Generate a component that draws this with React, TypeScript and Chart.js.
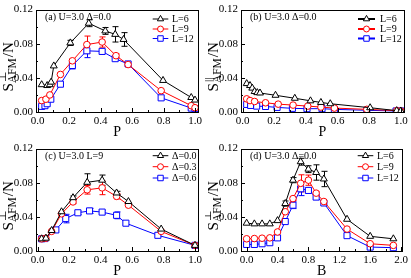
import React, { useEffect, useRef } from "react";
import { Chart, registerables } from "chart.js";
Chart.register(...registerables);

const FONT = "'Liberation Serif', 'Times New Roman', serif";

// ---- tick labels ----
const P_TICKS = [0, 0.2, 0.4, 0.6, 0.8, 1.0];
const B_TICKS = [0, 0.4, 0.8, 1.2, 1.6, 2.0];
const Y_TICKS = [0, 0.04, 0.08, 0.12];

// ---- panel (a): S_perp vs P, U=3.0, Delta=0.0 ----
const A_X6 = [0.026, 0.061, 0.078, 0.086, 0.103, 0.208, 0.325, 0.43, 0.493, 0.546, 0.797, 0.976, 1.0];
const A_Y6 = [0.032, 0.031, 0.032, 0.035, 0.054, 0.081, 0.104, 0.095, 0.091, 0.085, 0.037, 0.017, 0.014];
const A_E6 = [0, 0, 0, 0, 0, 0.003, 0.004, 0.004, 0.009, 0.008, 0, 0, 0];
const A_X9 = [0.026, 0.053, 0.078, 0.145, 0.221, 0.313, 0.41, 0.498, 0.575, 0.785, 0.976, 1.0];
const A_Y9 = [0.0134, 0.015, 0.02, 0.044, 0.06, 0.079, 0.082, 0.066, 0.0556, 0.025, 0.0074, 0.005];
const A_E9 = [0, 0, 0, 0, 0.002, 0.01, 0.006, 0.002, 0, 0, 0, 0];
const A_X12 = [0.026, 0.047, 0.061, 0.084, 0.145, 0.221, 0.313, 0.41, 0.493, 0.575, 0.785, 0.976, 1.0];
const A_Y12 = [0.0066, 0.0074, 0.0097, 0.015, 0.0326, 0.0545, 0.0717, 0.071, 0.0625, 0.0563, 0.0166, 0.0046, 0.004];
const A_E12 = [0, 0, 0, 0, 0, 0.004, 0.008, 0.002, 0, 0, 0, 0, 0];

// ---- panel (b): S_parallel vs P ----
const B_X6 = [0.026, 0.047, 0.061, 0.076, 0.093, 0.11, 0.208, 0.33, 0.429, 0.495, 0.554, 0.806, 0.974, 1.0];
const B_Y6 = [0.0333, 0.031, 0.028, 0.024, 0.0227, 0.0223, 0.0196, 0.0161, 0.0131, 0.0112, 0.0097, 0.005, 0.0016, 0.0012];
const B_X9 = [0.026, 0.047, 0.076, 0.145, 0.225, 0.319, 0.412, 0.495, 0.58, 0.785, 0.974, 1.0];
const B_Y9 = [0.0154, 0.0134, 0.0123, 0.0108, 0.0092, 0.0081, 0.0069, 0.0058, 0.0046, 0.0031, 0.0016, 0.0012];
const B_X12 = [0.026, 0.051, 0.089, 0.145, 0.218, 0.315, 0.407, 0.502, 0.58, 0.785, 0.97, 1.0];
const B_Y12 = [0.0089, 0.0077, 0.0069, 0.0065, 0.0054, 0.0043, 0.0039, 0.0039, 0.0031, 0.002, 0.0012, 0.0012];

// ---- panel (c): S_perp vs P, U=3.0, L=9, various Delta ----
const C_X0 = [0.026, 0.053, 0.089, 0.152, 0.225, 0.315, 0.41, 0.502, 0.577, 0.785, 1.0];
const C_Y0 = [0.0143, 0.015, 0.024, 0.046, 0.0625, 0.0805, 0.083, 0.068, 0.058, 0.0257, 0.0066];
const C_E0 = [0, 0, 0, 0, 0.002, 0.01, 0.006, 0.002, 0, 0, 0];
const C_X3 = [0.026, 0.053, 0.089, 0.152, 0.225, 0.315, 0.41, 0.502, 0.577, 0.785, 1.0];
const C_Y3 = [0.0143, 0.015, 0.023, 0.0436, 0.0575, 0.0717, 0.074, 0.064, 0.0537, 0.023, 0.0066];
const C_E3 = [0, 0, 0, 0, 0.002, 0.005, 0.008, 0.003, 0, 0, 0];
const C_X6 = [0.026, 0.047, 0.116, 0.179, 0.256, 0.33, 0.41, 0.502, 0.561, 0.764, 1.0];
const C_Y6 = [0.0143, 0.0146, 0.0247, 0.038, 0.0448, 0.047, 0.0456, 0.0418, 0.0326, 0.0184, 0.0066];
const C_E6 = [0, 0, 0, 0.005, 0.002, 0.003, 0.002, 0.004, 0, 0, 0];

// ---- panel (d): S_perp vs B ----
const D_B = [0, 0.1, 0.2, 0.3, 0.4, 0.5, 0.6, 0.7, 0.8, 0.9, 1.0, 1.3, 1.6, 1.9];
const D_Y6 = [0.0326, 0.0318, 0.0318, 0.0318, 0.0356, 0.0556, 0.083, 0.1046, 0.0959, 0.092, 0.0844, 0.0372, 0.0172, 0.0143];
const D_E6 = [0, 0, 0, 0, 0, 0.003, 0.003, 0.004, 0.004, 0.009, 0.009, 0, 0, 0];
const D_Y9 = [0.0143, 0.0146, 0.015, 0.0154, 0.0223, 0.046, 0.0614, 0.0793, 0.083, 0.0678, 0.058, 0.0257, 0.0085, 0.0066];
const D_E9 = [0, 0, 0, 0, 0, 0, 0.002, 0.01, 0.006, 0.002, 0, 0, 0, 0];
const D_Y12 = [0.0077, 0.0077, 0.0085, 0.0097, 0.0154, 0.0345, 0.0537, 0.0729, 0.071, 0.0632, 0.0563, 0.018, 0.0046, 0.0039];
const D_E12 = [0, 0, 0, 0, 0, 0, 0.004, 0.008, 0.003, 0, 0, 0, 0, 0];

const L_LABELS = ["L=6", "L=9", "L=12"];
const D_LABELS = ["Δ=0.0", "Δ=0.3", "Δ=0.6"];
const NOTES = ["(a) U=3.0 Δ=0.0", "(b) U=3.0 Δ=0.0", "(c) U=3.0 L=9", "(d) U=3.0 Δ=0.0"];

type Shape = "triangle" | "circle" | "rect";
const COLORS = ["#000000", "#ff0000", "#0000ff"];
const SHAPES: Shape[] = ["triangle", "circle", "rect"];
const RADII = [4, 3.3, 4.3];

type SeriesDef = { x: number[]; y: number[]; e: number[] | null; label: string };
type PanelDef = {
  left: number; top: number; width: number; height: number;
  xMin: number; xMax: number; xTicks: number[]; xMinor: number; xTitle: string;
  ySup: string; note: string; legendY: number[]; legendX: number[]; legendLW: number;
  series: SeriesDef[];
};

const PANELS: PanelDef[] = [
  {
    left: 0, top: 0, width: 205, height: 139, xMin: -0.01, xMax: 1.02, xTicks: P_TICKS, xMinor: 0.1, xTitle: "P",
    ySup: "⊥", note: NOTES[0], legendY: [19, 29, 38.5], legendX: [152.7, 168.3, 172], legendLW: 1,
    series: [
      { x: A_X6, y: A_Y6, e: A_E6, label: L_LABELS[0] },
      { x: A_X9, y: A_Y9, e: A_E9, label: L_LABELS[1] },
      { x: A_X12, y: A_Y12, e: A_E12, label: L_LABELS[2] },
    ],
  },
  {
    left: 205, top: 0, width: 206, height: 139, xMin: -0.01, xMax: 1.02, xTicks: P_TICKS, xMinor: 0.1, xTitle: "P",
    ySup: "||", note: NOTES[1], legendY: [19, 29, 38.5], legendX: [153, 170, 175], legendLW: 2,
    series: [
      { x: B_X6, y: B_Y6, e: null, label: L_LABELS[0] },
      { x: B_X9, y: B_Y9, e: null, label: L_LABELS[1] },
      { x: B_X12, y: B_Y12, e: null, label: L_LABELS[2] },
    ],
  },
  {
    left: 0, top: 139, width: 205, height: 139, xMin: -0.01, xMax: 1.02, xTicks: P_TICKS, xMinor: 0.1, xTitle: "P",
    ySup: "⊥", note: NOTES[2], legendY: [16.7, 27.7, 39], legendX: [152.7, 168.3, 172], legendLW: 1,
    series: [
      { x: C_X0, y: C_Y0, e: C_E0, label: D_LABELS[0] },
      { x: C_X3, y: C_Y3, e: C_E3, label: D_LABELS[1] },
      { x: C_X6, y: C_Y6, e: C_E6, label: D_LABELS[2] },
    ],
  },
  {
    left: 205, top: 139, width: 206, height: 139, xMin: -0.073, xMax: 2.015, xTicks: B_TICKS, xMinor: 0.2, xTitle: "B",
    ySup: "⊥", note: NOTES[3], legendY: [16.7, 27.7, 39], legendX: [152.7, 168.3, 172], legendLW: 1,
    series: [
      { x: D_B, y: D_Y6, e: D_E6, label: L_LABELS[0] },
      { x: D_B, y: D_Y9, e: D_E9, label: L_LABELS[1] },
      { x: D_B, y: D_Y12, e: D_E12, label: L_LABELS[2] },
    ],
  },
];

function drawShape(ctx: CanvasRenderingContext2D, shape: Shape, x: number, y: number, r: number) {
  ctx.beginPath();
  if (shape === "circle") {
    ctx.arc(x, y, r, 0, Math.PI * 2);
  } else if (shape === "triangle") {
    const s = Math.sin(Math.PI * 2 / 3) * r;
    ctx.moveTo(x, y - r);
    ctx.lineTo(x + s, y + r / 2);
    ctx.lineTo(x - s, y + r / 2);
    ctx.closePath();
  } else {
    const h = r * Math.SQRT1_2;
    ctx.rect(x - h, y - h, 2 * h, 2 * h);
  }
  ctx.fillStyle = "#fff";
  ctx.fill();
  ctx.stroke();
}

function makeConfig(def: PanelDef): any {
  const deco = {
    id: "deco",
    beforeDatasetsDraw(chart: any) {
      const ctx: CanvasRenderingContext2D = chart.ctx;
      const xs = chart.scales.x, ys = chart.scales.y;
      ctx.save();
      ctx.lineWidth = 1;
      def.series.forEach((s, i) => {
        if (!s.e) return;
        ctx.strokeStyle = COLORS[i];
        s.e.forEach((e, j) => {
          if (!e) return;
          const px = Math.round(xs.getPixelForValue(s.x[j])) + 0.5;
          const y1 = ys.getPixelForValue(s.y[j] + e);
          const y2 = ys.getPixelForValue(s.y[j] - e);
          ctx.beginPath();
          ctx.moveTo(px, y1); ctx.lineTo(px, y2);
          ctx.moveTo(px - 3, y1); ctx.lineTo(px + 3, y1);
          ctx.moveTo(px - 3, y2); ctx.lineTo(px + 3, y2);
          ctx.stroke();
        });
      });
      ctx.restore();
    },
    afterDraw(chart: any) {
      const ctx: CanvasRenderingContext2D = chart.ctx;
      const ca = chart.chartArea;
      const xs = chart.scales.x, ys = chart.scales.y;
      ctx.save();
      ctx.strokeStyle = "#000";
      ctx.lineWidth = 1;
      // frame
      ctx.strokeRect(Math.round(ca.left) + 0.5, Math.round(ca.top) + 0.5, Math.round(ca.right - ca.left), Math.round(ca.bottom - ca.top));
      // inward ticks
      ctx.beginPath();
      const x0 = def.xTicks[0], x1 = def.xTicks[def.xTicks.length - 1];
      const nx = Math.round((x1 - x0) / def.xMinor);
      for (let k = 0; k <= nx; k++) {
        const v = x0 + k * def.xMinor;
        const px = Math.round(xs.getPixelForValue(v)) + 0.5;
        const len = k % 2 === 0 ? 4 : 2;
        ctx.moveTo(px, ca.bottom); ctx.lineTo(px, ca.bottom - len);
      }
      for (let k = 0; k <= 6; k++) {
        const v = k * 0.02;
        const py = Math.round(ys.getPixelForValue(v)) + 0.5;
        const len = k % 2 === 0 ? 4 : 2;
        ctx.moveTo(ca.left, py); ctx.lineTo(ca.left + len, py);
      }
      ctx.stroke();
      // note
      ctx.fillStyle = "#000";
      ctx.font = `10px ${FONT}`;
      ctx.textBaseline = "middle";
      ctx.textAlign = "left";
      ctx.fillText(def.note, ca.left + 9, ca.top + 7.7);
      // legend
      def.series.forEach((s, i) => {
        const y = def.legendY[i];
        ctx.strokeStyle = COLORS[i];
        ctx.lineWidth = def.legendLW;
        ctx.beginPath();
        ctx.moveTo(def.legendX[0], y); ctx.lineTo(def.legendX[1], y);
        ctx.stroke();
        ctx.lineWidth = 1;
        drawShape(ctx, SHAPES[i], (def.legendX[0] + def.legendX[1]) / 2, y, RADII[i] * 0.9);
        ctx.fillStyle = "#000";
        ctx.fillText(s.label, def.legendX[2], y + 0.5);
      });
      // y title: S^{sup}_{AFM}/N rotated
      ctx.translate(12.5, (ca.top + ca.bottom) / 2 + 6);
      ctx.rotate(-Math.PI / 2);
      const big = `15px ${FONT}`, small = `11.5px ${FONT}`;
      ctx.textBaseline = "alphabetic";
      ctx.font = big;
      const wS = ctx.measureText("S").width;
      const wN = ctx.measureText("/N").width;
      ctx.font = small;
      const wSub = ctx.measureText("AFM").width;
      const wSup = ctx.measureText(def.ySup).width;
      const wMid = Math.max(wSub, wSup) + 1;
      const total = wS + wMid + wN;
      let cx = -total / 2;
      ctx.fillStyle = "#000";
      ctx.font = big;
      ctx.fillText("S", cx, 0);
      cx += wS;
      ctx.font = small;
      ctx.fillText(def.ySup, cx + 1, -7);
      ctx.fillText("AFM", cx, 3);
      cx += wMid;
      ctx.font = big;
      ctx.fillText("/N", cx, 0);
      ctx.restore();
    },
  };

  const datasets = def.series.map((s, i) => ({
    label: s.label,
    data: s.x.map((x, j) => ({ x, y: s.y[j] })),
    borderColor: COLORS[i],
    backgroundColor: "#ffffff",
    borderWidth: 1,
    pointStyle: SHAPES[i],
    pointRadius: RADII[i],
    pointBorderWidth: 1,
    pointBackgroundColor: "#ffffff",
    pointBorderColor: COLORS[i],
    tension: 0,
    fill: false,
  }));

  const tickFont = { family: FONT, size: 11 };
  return {
    type: "line",
    data: { datasets },
    options: {
      animation: false,
      responsive: false,
      devicePixelRatio: 1,
      layout: { padding: { left: 0, top: 7, right: def.width - 199, bottom: 0 } },
      plugins: { legend: { display: false }, tooltip: { enabled: false } },
      scales: {
        x: {
          type: "linear",
          min: def.xMin,
          max: def.xMax,
          afterBuildTicks: (sc: any) => { sc.ticks = def.xTicks.map((v) => ({ value: v })); },
          afterFit: (sc: any) => { sc.height = 27; },
          grid: { display: false, drawTicks: false, tickLength: 0 },
          border: { display: false },
          ticks: {
            font: tickFont, color: "#000", padding: 3, maxRotation: 0, autoSkip: false,
            callback: (v: any) => Number(v).toFixed(1),
          },
          title: { display: true, text: def.xTitle, color: "#000", font: { family: FONT, size: 14, lineHeight: 1 }, padding: { top: 0, bottom: 0 } },
        },
        y: {
          type: "linear",
          min: 0,
          max: 0.12,
          afterBuildTicks: (sc: any) => { sc.ticks = Y_TICKS.map((v) => ({ value: v })); },
          afterFit: (sc: any) => { sc.width = 36; },
          grid: { display: false, drawTicks: false, tickLength: 0 },
          border: { display: false },
          ticks: { font: tickFont, color: "#000", padding: 3, autoSkip: false, callback: (v: any) => Number(v).toFixed(2) },
        },
      },
    },
    plugins: [deco],
  };
}

function Panel({ def }: { def: PanelDef }) {
  const ref = useRef<HTMLCanvasElement>(null);
  useEffect(() => {
    const chart = new Chart(ref.current as HTMLCanvasElement, makeConfig(def));
    return () => chart.destroy();
  }, []);
  return (
    <canvas
      ref={ref}
      width={def.width}
      height={def.height}
      style={{ position: "absolute", left: def.left, top: def.top, width: def.width, height: def.height }}
    />
  );
}

export default function App() {
  return (
    <div style={{ position: "absolute", left: 0, top: 0, width: 411, height: 278, background: "#fff" }}>
      {PANELS.map((d, i) => (
        <Panel key={i} def={d} />
      ))}
    </div>
  );
}
